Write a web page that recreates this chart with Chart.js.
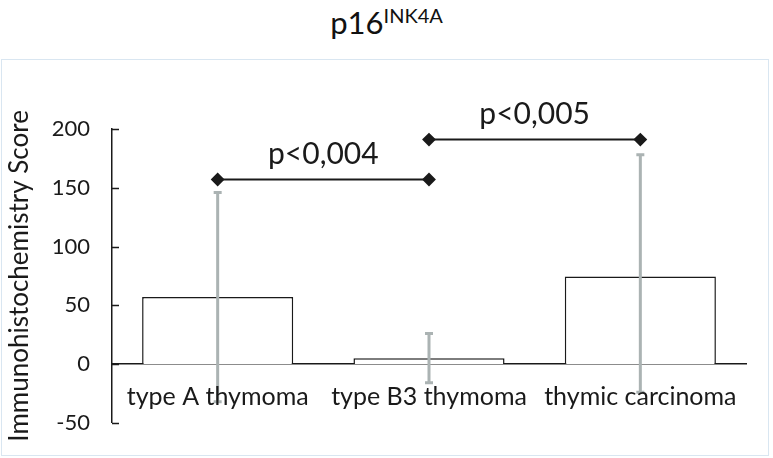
<!DOCTYPE html>
<html>
<head>
<meta charset="utf-8">
<script src="https://cdn.jsdelivr.net/npm/chart.js@4.4.0/dist/chart.umd.min.js"></script>
<style>
  html, body { margin: 0; padding: 0; background: #fff; }
  #wrap { position: relative; width: 773px; height: 458px; overflow: hidden; }
  #box { position: absolute; left: 1px; top: 59px; width: 766px; height: 395px; border: 1.5px solid #d9e6f1; }
  #title { position: absolute; left: 0; width: 773px; top: 3px; text-align: center;
           font-family: Lato, sans-serif; font-size: 31px; color: #111; }
  #title sup { font-size: 20px; }
  #myChart { position: absolute; left: 0; top: 0; }
</style>
</head>
<body>
<div id="wrap">
  <div id="box"></div>
  <div id="title">p16<sup>INK4A</sup></div>
  <canvas id="myChart" width="773" height="458"></canvas>
</div>
<script>
const categories = ['type A thymoma', 'type B3 thymoma', 'thymic carcinoma'];
const means = [57, 5, 74.5];
const errHigh = [146, 26, 178];
const errLow = [-32, -16, -24];
const yTicks = [-50, 0, 50, 100, 150, 200];
const compA = [157, 157, null];
const compB = [null, 191, 191];
const pLabels = ['p<0,004', 'p<0,005'];

const FONT = 'Lato, sans-serif';
const INK = '#1a1a1a';

// gray error bars, inward y ticks and the p-value texts
const extras = {
    id: 'extras',
    afterDatasetsDraw(chart) {
        const ctx = chart.ctx;
        const y = chart.scales.y;
        const bars = chart.getDatasetMeta(2).data;
        ctx.save();
        ctx.strokeStyle = '#abb3b3';
        ctx.lineWidth = 3;
        bars.forEach((bar, i) => {
            const top = y.getPixelForValue(errHigh[i]);
            const bot = y.getPixelForValue(errLow[i]);
            ctx.beginPath();
            ctx.moveTo(bar.x, top); ctx.lineTo(bar.x, bot);
            ctx.moveTo(bar.x - 4, top); ctx.lineTo(bar.x + 4, top);
            ctx.moveTo(bar.x - 4, bot); ctx.lineTo(bar.x + 4, bot);
            ctx.stroke();
        });

        ctx.strokeStyle = INK;
        ctx.lineWidth = 1.5;
        ctx.beginPath();
        y.ticks.forEach(t => {
            const py = Math.round(y.getPixelForValue(t.value)) + 0.5;
            ctx.moveTo(y.right, py); ctx.lineTo(y.right + 7, py);
        });
        ctx.stroke();

        ctx.fillStyle = INK;
        ctx.font = '30px ' + FONT;
        ctx.textAlign = 'center';
        ctx.textBaseline = 'alphabetic';
        [0, 1].forEach(k => {
            const pts = chart.getDatasetMeta(k).data.filter((p, i) => chart.data.datasets[k].data[i] != null);
            const mx = (pts[0].x + pts[pts.length - 1].x) / 2;
            ctx.fillText(pLabels[k], mx, pts[0].y - 16);
        });
        ctx.restore();
    }
};

const compStyle = {
    type: 'line',
    borderColor: INK,
    borderWidth: 2,
    pointStyle: 'rectRot',
    pointRadius: 5.5,
    pointBackgroundColor: INK,
    pointBorderColor: INK,
    order: 1
};

const data = {
    labels: categories,
    datasets: [
        Object.assign({ label: pLabels[0], data: compA }, compStyle),
        Object.assign({ label: pLabels[1], data: compB }, compStyle),
        {
            label: 'p16',
            data: means,
            backgroundColor: '#ffffff',
            borderColor: INK,
            borderWidth: 1.5,
            barPercentage: 0.715,
            categoryPercentage: 1,
            order: 2
        }
    ]
};

const config = {
    type: 'bar',
    data: data,
    options: {
        responsive: false,
        animation: false,
        devicePixelRatio: 1,
        layout: { padding: { top: 129, bottom: 25, left: 4, right: 27 } },
        plugins: {
            legend: { display: false },
            tooltip: { enabled: false }
        },
        scales: {
            x: {
                position: { y: 0 },
                grid: { display: false, drawTicks: false },
                border: { display: true, color: INK, width: 1.5 },
                ticks: { color: INK, font: { family: FONT, size: 25 }, padding: 18, maxRotation: 0, autoSkip: false, z: 1 }
            },
            y: {
                min: -50,
                max: 200,
                afterBuildTicks: (scale) => { scale.ticks = yTicks.map(v => ({ value: v })); },
                afterFit: (scale) => { scale.width = 108; },
                grid: { display: false, drawTicks: false },
                border: { display: true, color: INK, width: 1.5 },
                ticks: { color: INK, font: { family: FONT, size: 22 }, padding: 22 },
                title: {
                    display: true,
                    text: 'Immunohistochemistry Score',
                    color: INK,
                    font: { family: FONT, size: 26 },
                    padding: 0
                }
            }
        }
    },
    plugins: [extras]
};

document.addEventListener('DOMContentLoaded', (event) => {
    const myChart = new Chart(
        document.getElementById('myChart'),
        config
    );
});
</script>
</body>
</html>
